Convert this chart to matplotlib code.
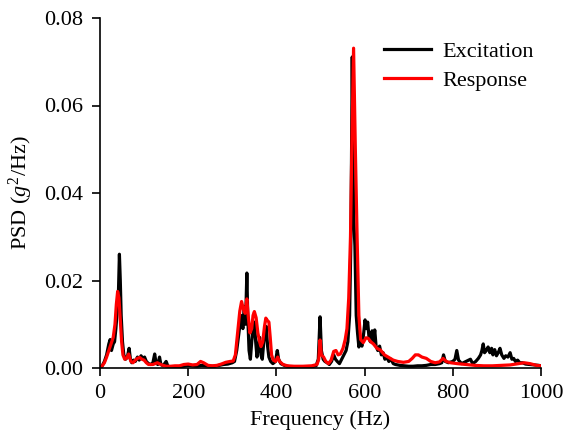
import matplotlib
matplotlib.use("Agg")
import matplotlib.pyplot as plt

plt.rcParams['font.family'] = ['Liberation Serif', 'DejaVu Serif']
plt.rcParams['mathtext.fontset'] = 'custom'
plt.rcParams['mathtext.rm'] = 'Liberation Serif'
plt.rcParams['mathtext.it'] = 'Liberation Serif:italic'

exc_freq = [0, 5, 10, 15, 20, 23, 26, 30, 33, 36, 39, 42, 44, 46, 48, 51, 54, 58, 62, 66,
            69, 72, 76, 80, 85, 89, 93, 97, 101, 105, 110, 115, 120, 124, 127, 131, 135, 138, 143, 150,
            154, 160, 170, 180, 190, 200, 210, 220, 230, 240, 250, 260, 270, 280, 290, 300, 305, 310, 315, 320,
            324, 327, 330, 333, 335, 338, 341, 344, 347, 350, 353, 356, 359, 362, 365, 368, 371, 374, 377, 380,
            383, 387, 392, 398, 402, 405, 410, 420, 430, 440, 450, 460, 470, 480, 490, 495, 499, 502, 506, 510,
            515, 520, 525, 530, 534, 538, 543, 548, 553, 558, 562, 566, 569, 572, 575, 578, 581, 584, 587, 590,
            594, 598, 601, 604, 607, 610, 613, 617, 620, 623, 626, 630, 634, 638, 642, 646, 650, 655, 660, 665,
            670, 680, 690, 700, 710, 720, 730, 740, 750, 760, 770, 775, 779, 783, 790, 800, 805, 809, 813, 820,
            830, 840, 845, 852, 858, 863, 866, 869, 872, 876, 880, 884, 888, 891, 895, 899, 903, 907, 911, 916,
            920, 925, 930, 934, 938, 942, 947, 952, 958, 965, 975, 985, 995, 1000]
exc_psd = [0, 0.0005, 0.0015, 0.003, 0.0055, 0.0065, 0.004, 0.0055, 0.006, 0.009, 0.013, 0.018, 0.026, 0.02, 0.012, 0.006, 0.003, 0.002, 0.0025, 0.0045,
           0.002, 0.0012, 0.0018, 0.0015, 0.0025, 0.0018, 0.0028, 0.0022, 0.0025, 0.0015, 0.001, 0.0008, 0.0012, 0.0032, 0.0012, 0.0008, 0.0025, 0.0008, 0.0005, 0.0015,
           0.0004, 0.0003, 0.0002, 0.0003, 0.0004, 0.0006, 0.0005, 0.0004, 0.0006, 0.0005, 0.0004, 0.0004, 0.0006, 0.0008, 0.0009, 0.0012, 0.0015, 0.004, 0.008, 0.012,
           0.009, 0.014, 0.01, 0.0217, 0.012, 0.004, 0.002, 0.006, 0.009, 0.0105, 0.006, 0.0025, 0.005, 0.007, 0.003, 0.002, 0.0055, 0.008, 0.0095, 0.005,
           0.0025, 0.0015, 0.001, 0.0015, 0.004, 0.002, 0.001, 0.0005, 0.0003, 0.0002, 0.0002, 0.0002, 0.0003, 0.0003, 0.0005, 0.002, 0.0117, 0.004, 0.002, 0.0015,
           0.0012, 0.0008, 0.0015, 0.003, 0.002, 0.0015, 0.001, 0.002, 0.003, 0.004, 0.006, 0.012, 0.03, 0.0711, 0.035, 0.028, 0.012, 0.008, 0.0048, 0.006,
           0.005, 0.008, 0.011, 0.009, 0.0105, 0.007, 0.006, 0.0085, 0.006, 0.0087, 0.005, 0.004, 0.005, 0.003, 0.0035, 0.002, 0.0025, 0.0015, 0.002, 0.001,
           0.0008, 0.0006, 0.0005, 0.0004, 0.0004, 0.0005, 0.0005, 0.0006, 0.0008, 0.0008, 0.001, 0.0012, 0.003, 0.0015, 0.0012, 0.0015, 0.002, 0.004, 0.0018, 0.001,
           0.0015, 0.002, 0.001, 0.0015, 0.0022, 0.003, 0.004, 0.0055, 0.0035, 0.004, 0.0048, 0.0035, 0.0045, 0.003, 0.0042, 0.0028, 0.0035, 0.0045, 0.003, 0.0022,
           0.0028, 0.0025, 0.0035, 0.002, 0.0022, 0.0015, 0.0018, 0.0012, 0.0012, 0.0009, 0.0008, 0.0007, 0.0006, 0.0005]

resp_freq = [0, 5, 10, 15, 20, 25, 30, 34, 37, 40, 43, 46, 49, 52, 56, 60, 65, 70, 75, 80,
             85, 90, 95, 100, 105, 110, 120, 130, 140, 150, 160, 170, 180, 190, 200, 210, 220, 228, 235, 245,
             255, 265, 275, 285, 295, 302, 307, 312, 317, 321, 325, 329, 333, 336, 340, 344, 347, 350, 354, 358,
             362, 365, 369, 373, 376, 380, 383, 386, 389, 393, 398, 403, 407, 415, 425, 440, 460, 480, 492, 496,
             499, 502, 507, 512, 518, 524, 530, 535, 540, 545, 551, 556, 560, 564, 568, 571, 575, 579, 583, 587,
             591, 597, 603, 608, 614, 620, 628, 636, 645, 655, 665, 675, 688, 700, 708, 715, 722, 730, 740, 750,
             760, 770, 778, 785, 795, 810, 830, 850, 870, 890, 910, 930, 950, 962, 975, 990, 1000]
resp_psd = [0, 0.0005, 0.0012, 0.0025, 0.004, 0.0055, 0.007, 0.01, 0.0145, 0.0175, 0.016, 0.011, 0.006, 0.003, 0.002, 0.0022, 0.0032, 0.0015, 0.0012, 0.0018,
            0.0022, 0.0024, 0.002, 0.0018, 0.0012, 0.0008, 0.0008, 0.0012, 0.0007, 0.0004, 0.0004, 0.0005, 0.0005, 0.0008, 0.0009, 0.0007, 0.0008, 0.0015, 0.0012, 0.0006,
            0.0005, 0.0006, 0.0009, 0.0013, 0.0015, 0.0016, 0.003, 0.008, 0.013, 0.0152, 0.0135, 0.0125, 0.0158, 0.012, 0.008, 0.009, 0.012, 0.0129, 0.0115, 0.008,
            0.006, 0.0049, 0.006, 0.0095, 0.0114, 0.0108, 0.0105, 0.007, 0.003, 0.0018, 0.0015, 0.0025, 0.0015, 0.0008, 0.0005, 0.0004, 0.0004, 0.0005, 0.0008, 0.002,
            0.0064, 0.003, 0.0025, 0.0015, 0.001, 0.0018, 0.0038, 0.004, 0.003, 0.0032, 0.0045, 0.0065, 0.009, 0.016, 0.03, 0.05, 0.0731, 0.05, 0.03, 0.012,
            0.0065, 0.0058, 0.0069, 0.0068, 0.006, 0.0055, 0.0045, 0.0041, 0.003, 0.0024, 0.0018, 0.0015, 0.0013, 0.0015, 0.0022, 0.003, 0.003, 0.0025, 0.0022, 0.0015,
            0.0012, 0.0014, 0.0022, 0.0015, 0.0012, 0.001, 0.0008, 0.0006, 0.0005, 0.0005, 0.0006, 0.0007, 0.001, 0.0012, 0.001, 0.0006, 0.0005]

x_ticks = [0, 200, 400, 600, 800, 1000]
y_ticks = [0.00, 0.02, 0.04, 0.06, 0.08]

fig = plt.figure(figsize=(5.66, 4.38), dpi=100)
ax = fig.add_axes([100/566, 1-368/438, 441/566, 350/438])
ax.plot(exc_freq, exc_psd, color='black', lw=2.3, label='Excitation', solid_joinstyle='round')
ax.plot(resp_freq, resp_psd, color='red', lw=2.3, label='Response', solid_joinstyle='round')

ax.set_xlim(0, 1000)
ax.set_ylim(0, 0.08)
ax.set_xticks(x_ticks)
ax.set_yticks(y_ticks)
ax.set_yticklabels([f"{v:.2f}" for v in y_ticks])
ax.spines['top'].set_visible(False)
ax.spines['right'].set_visible(False)
for s in ['left', 'bottom']:
    ax.spines[s].set_linewidth(1.2)
ax.tick_params(direction='out', length=5.5, width=1.2, labelsize=16)
ax.tick_params(axis='y', pad=7)
ax.tick_params(axis='x', pad=6)
ax.set_xlabel('Frequency (Hz)', fontsize=16, labelpad=5)
ax.set_ylabel('PSD ($g^2$/Hz)', fontsize=16, labelpad=6)

ax.legend(loc='upper right', frameon=False, fontsize=16, handlelength=2.1,
          handletextpad=0.55, labelspacing=0.4, borderaxespad=0.2,
          bbox_to_anchor=(1.015, 0.972))

fig.savefig('out.png', dpi=100)
